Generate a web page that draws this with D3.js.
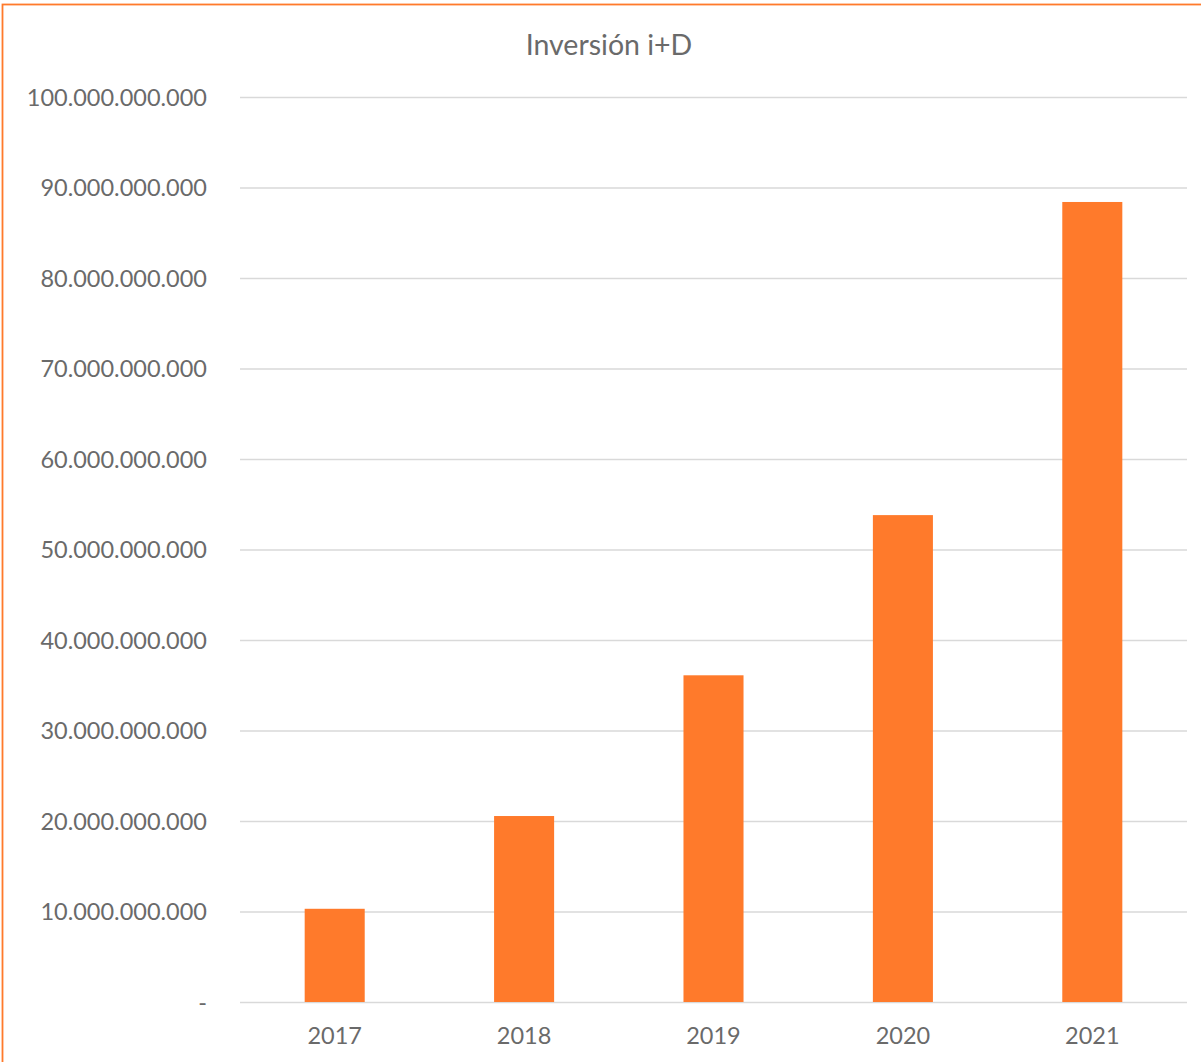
<!DOCTYPE html>
<html><head><meta charset="utf-8">
<script src="https://cdn.jsdelivr.net/npm/d3@7"></script>
<style>body{margin:0;background:#fff}svg{display:block}text{font-family:Lato,"Open Sans",sans-serif;fill:#6a6a6a}</style>
</head><body>
<svg id="c" width="1201" height="1062"></svg>
<script>
const years = ["2017","2018","2019","2020","2021"];
const values = [10.3e9, 20.55e9, 36.1e9, 53.8e9, 88.4e9];
const yTicks = [0,10e9,20e9,30e9,40e9,50e9,60e9,70e9,80e9,90e9,100e9];
const title = "Inversión i+D";

(function(){
const svg = d3.select("#c");
const W = 1201, H = 1062;
const pLeft = 240, pRight = 1187, pTop = 97, pBottom = 1002;
const textCol = "#6a6a6a";

svg.append("rect").attr("x",2.5).attr("y",4.5).attr("width",W+10).attr("height",H+10)
  .attr("fill","#fff").attr("stroke","#FF7A2B").attr("stroke-width",1.8);

const x = d3.scaleBand().domain(years).range([pLeft,pRight]).paddingInner(0.683).paddingOuter(0.3415);
const y = d3.scaleLinear().domain([0,100e9]).range([pBottom,pTop]);

const fmt = v => v===0 ? "-" : d3.format(",")(v).replace(/,/g,".");

const ya = svg.append("g").attr("transform",`translate(${pLeft},0)`)
  .call(d3.axisLeft(y).tickValues(yTicks).tickSize(-(pRight-pLeft)).tickPadding(33).tickFormat(fmt));
ya.select(".domain").remove();
ya.selectAll(".tick line").attr("stroke","#D9D9D9").attr("stroke-width",1.5);
ya.selectAll(".tick text").style("font-size","23.5px").attr("fill",textCol).attr("dy","0.34em");

svg.append("g").selectAll("rect").data(values).join("rect")
  .attr("x",(d,i)=>x(years[i])).attr("width",x.bandwidth())
  .attr("y",d=>y(d)).attr("height",d=>pBottom-y(d)).attr("fill","#FF7A2B");

const xa = svg.append("g").attr("transform",`translate(0,${pBottom})`)
  .call(d3.axisBottom(x).tickSize(0).tickPadding(25));
xa.select(".domain").remove();
xa.selectAll(".tick text").style("font-size","23.5px").attr("fill",textCol);

svg.append("text").attr("x",609).attr("y",55).attr("text-anchor","middle")
  .style("font-size","28.5px").attr("fill",textCol).text(title);
})();
</script>
</body></html>
